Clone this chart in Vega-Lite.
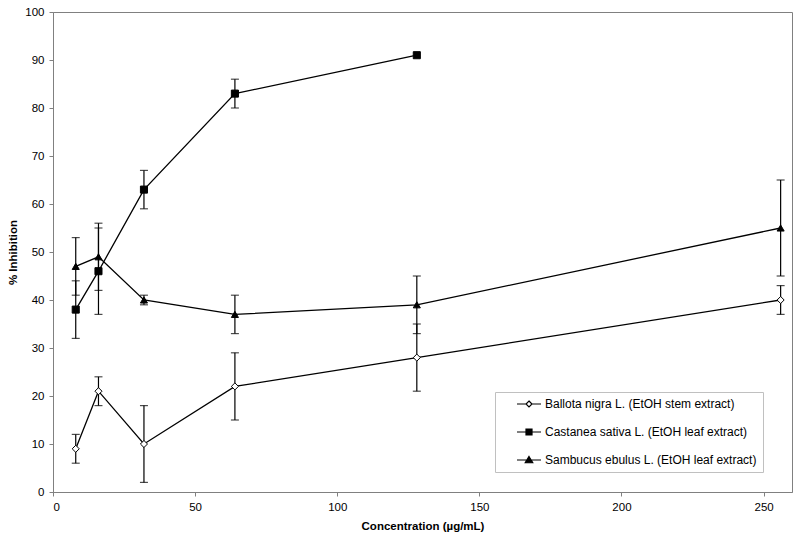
{
  "$schema": "https://vega.github.io/schema/vega-lite/v6.json",
  "width": 739,
  "height": 480,
  "autosize": "none",
  "padding": {"left": 53, "top": 12, "right": 8, "bottom": 52},
  "background": "white",
  "config": {
    "view": {"stroke": "#808080", "strokeWidth": 1},
    "font": "Liberation Sans",
    "axis": {
      "grid": false,
      "domainColor": "#808080",
      "tickColor": "#808080",
      "tickSize": 4,
      "labelFont": "Liberation Sans",
      "labelFontSize": 11.5,
      "labelColor": "black",
      "labelPadding": 5,
      "titleFont": "Liberation Sans",
      "titleFontSize": 11.5,
      "titleFontWeight": "bold",
      "titleColor": "black"
    },
    "legend": {
      "title": null,
      "orient": "none",
      "legendX": 442,
      "legendY": 380,
      "padding": 6,
      "symbolOffset": 22,
      "labelOffset": 10,
      "labelLimit": 0,
      "rowPadding": 16,
      "symbolSize": 100,
      "symbolStrokeWidth": 1.2,
      "symbolOpacity": 1,
      "labelFont": "Liberation Sans",
      "labelFontSize": 12,
      "labelColor": "black",
      "strokeColor": "#c0c0c0",
      "fillColor": "white"
    }
  },
  "data": {
    "values": [
      {"series": "Ballota nigra L. (EtOH stem extract)", "conc": 8, "inh": 9, "lo": 6, "hi": 12},
      {"series": "Ballota nigra L. (EtOH stem extract)", "conc": 16, "inh": 21, "lo": 18, "hi": 24},
      {"series": "Ballota nigra L. (EtOH stem extract)", "conc": 32, "inh": 10, "lo": 2, "hi": 18},
      {"series": "Ballota nigra L. (EtOH stem extract)", "conc": 64, "inh": 22, "lo": 15, "hi": 29},
      {"series": "Ballota nigra L. (EtOH stem extract)", "conc": 128, "inh": 28, "lo": 21, "hi": 35},
      {"series": "Ballota nigra L. (EtOH stem extract)", "conc": 256, "inh": 40, "lo": 37, "hi": 43},
      {"series": "Castanea sativa L. (EtOH leaf extract)", "conc": 8, "inh": 38, "lo": 32, "hi": 44},
      {"series": "Castanea sativa L. (EtOH leaf extract)", "conc": 16, "inh": 46, "lo": 37, "hi": 55},
      {"series": "Castanea sativa L. (EtOH leaf extract)", "conc": 32, "inh": 63, "lo": 59, "hi": 67},
      {"series": "Castanea sativa L. (EtOH leaf extract)", "conc": 64, "inh": 83, "lo": 80, "hi": 86},
      {"series": "Castanea sativa L. (EtOH leaf extract)", "conc": 128, "inh": 91, "lo": null, "hi": null},
      {"series": "Sambucus ebulus L. (EtOH leaf extract)", "conc": 8, "inh": 47, "lo": 41, "hi": 53},
      {"series": "Sambucus ebulus L. (EtOH leaf extract)", "conc": 16, "inh": 49, "lo": 42, "hi": 56},
      {"series": "Sambucus ebulus L. (EtOH leaf extract)", "conc": 32, "inh": 40, "lo": 39, "hi": 41},
      {"series": "Sambucus ebulus L. (EtOH leaf extract)", "conc": 64, "inh": 37, "lo": 33, "hi": 41},
      {"series": "Sambucus ebulus L. (EtOH leaf extract)", "conc": 128, "inh": 39, "lo": 33, "hi": 45},
      {"series": "Sambucus ebulus L. (EtOH leaf extract)", "conc": 256, "inh": 55, "lo": 45, "hi": 65}
    ]
  },
  "resolve": {"scale": {"shape": "independent", "fill": "independent", "stroke": "independent"}},
  "layer": [
    {
      "transform": [{"filter": "datum.lo != null"}],
      "mark": {"type": "rule", "color": "black", "strokeWidth": 1.2},
      "encoding": {
        "x": {"field": "conc", "type": "quantitative", "scale": {"domain": [0, 260], "nice": false},
              "axis": {"values": [0, 50, 100, 150, 200, 250], "title": "Concentration (µg/mL)", "titlePadding": 8}},
        "y": {"field": "lo", "type": "quantitative", "scale": {"domain": [0, 100], "nice": false},
              "axis": {"values": [0, 10, 20, 30, 40, 50, 60, 70, 80, 90, 100], "title": "% Inhibition", "titlePadding": 6}},
        "y2": {"field": "hi"}
      }
    },
    {
      "transform": [{"filter": "datum.lo != null"}],
      "mark": {"type": "tick", "orient": "horizontal", "color": "black", "size": 8, "thickness": 1.2},
      "encoding": {
        "x": {"field": "conc", "type": "quantitative"},
        "y": {"field": "lo", "type": "quantitative"}
      }
    },
    {
      "transform": [{"filter": "datum.lo != null"}],
      "mark": {"type": "tick", "orient": "horizontal", "color": "black", "size": 8, "thickness": 1.2},
      "encoding": {
        "x": {"field": "conc", "type": "quantitative"},
        "y": {"field": "hi", "type": "quantitative"}
      }
    },
    {
      "mark": {"type": "line", "color": "black", "strokeWidth": 1.3},
      "encoding": {
        "x": {"field": "conc", "type": "quantitative"},
        "y": {"field": "inh", "type": "quantitative"},
        "detail": {"field": "series"}
      }
    },
    {
      "mark": {"type": "point", "filled": true, "stroke": "black", "strokeWidth": 1, "opacity": 1, "size": 50},
      "encoding": {
        "x": {"field": "conc", "type": "quantitative"},
        "y": {"field": "inh", "type": "quantitative"},
        "fill": {
          "field": "series", "type": "nominal",
          "scale": {"range": ["white", "black", "black"]},
          "legend": null
        },
        "shape": {
          "field": "series", "type": "nominal",
          "scale": {"range": ["diamond", "square", "triangle-up"]},
          "legend": null
        }
      }
    },
    {
      "mark": {"type": "point", "filled": true, "size": 0, "strokeWidth": 1.2, "opacity": 1},
      "encoding": {
        "x": {"field": "conc", "type": "quantitative"},
        "y": {"field": "inh", "type": "quantitative"},
        "fill": {
          "field": "series", "type": "nominal",
          "scale": {"range": ["white", "black", "black"]},
          "legend": {"labelExpr": "datum.label + '\u00a0\u00a0\u00a0\u00a0'"}
        },
        "stroke": {
          "field": "series", "type": "nominal",
          "scale": {"range": ["black", "black", "black"]},
          "legend": {"labelExpr": "datum.label + '\u00a0\u00a0\u00a0\u00a0'"}
        },
        "shape": {
          "field": "series", "type": "nominal",
          "scale": {"range": [
            "M-2.4,0H-0.6M0.6,0H2.4M0,-0.6L0.6,0L0,0.6L-0.6,0Z",
            "M-2.4,0H2.4M-0.6,-0.6H0.6V0.6H-0.6Z",
            "M-2.4,0H2.4M0,-0.7L0.75,0.55H-0.75Z"
          ]},
          "legend": {"labelExpr": "datum.label + '\u00a0\u00a0\u00a0\u00a0'"}
        }
      }
    }
  ]
}
